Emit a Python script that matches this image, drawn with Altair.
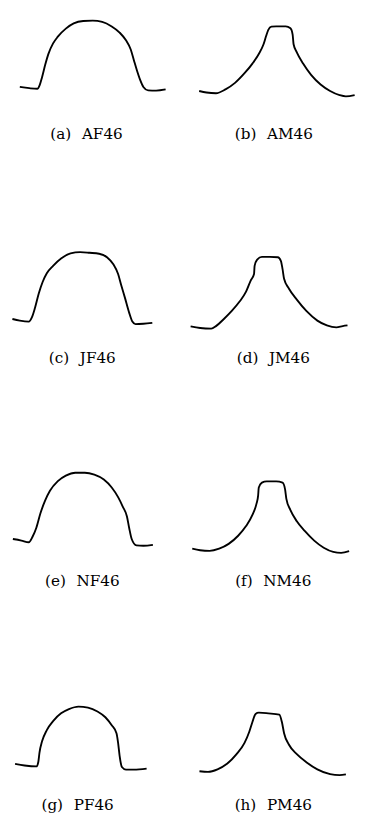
import altair as alt
import pandas as pd

# Panel captions
labels = ["(a)\u2002\u2009AF46", "(b)\u2002\u2009AM46",
          "(c)\u2002\u2009JF46", "(d)\u2002\u2009JM46",
          "(e)\u2002\u2009NF46", "(f)\u2002\u2009NM46",
          "(g)\u2002\u2009PF46", "(h)\u2002\u2009PM46"]

# Profile curves (position across, height)
a_x = [5.3, 15.3, 23.7, 26.3, 28.7, 32, 35.3, 40.3, 45.3, 53.7, 62, 72, 82, 92, 102,
       110.3, 117, 122, 125.3, 128.7, 132, 135.3, 140.3, 148.7, 158.7]
a_y = [60.5, 59.2, 58.6, 62.7, 70.6, 83.4, 94.5, 105.6, 112.6, 120.9, 126.3, 128.8,
       129.2, 127.9, 123.1, 116.8, 108.8, 99.3, 88.2, 77.0, 67.5, 60.5, 57.0, 56.7, 57.9]

b_x = [14, 21.7, 31.7, 41.7, 51.7, 61.7, 70, 76.7, 81.7, 84.3, 86.7, 90, 95, 105, 110,
       112.3, 113.3, 116.7, 123.3, 131.7, 141.7, 151.7, 161.7, 168.3, 177.5]
b_y = [56.3, 54.7, 54.0, 58.0, 64.7, 74.7, 84.7, 94.7, 104.7, 113.0, 119.7, 123.0,
       123.3, 123.3, 121.3, 114.7, 104.7, 96.3, 84.7, 73.0, 63.0, 56.3, 52.0, 50.7, 52.0]

c_x = [-2.5, 5.3, 14.7, 18, 21.3, 25.3, 29.3, 33.7, 40.3, 48.7, 58.7, 68.7, 78.7, 88.7,
       97, 103.7, 108.7, 112, 116, 120.3, 123.7, 127, 135.3, 144.7]
c_y = [51.7, 50.0, 49.0, 53.3, 63.3, 78.3, 90.0, 99.0, 106.7, 114.3, 119.7, 121.0,
       120.3, 119.3, 115.7, 108.3, 98.3, 86.7, 73.3, 58.3, 49.0, 46.3, 46.7, 47.7]

d_x = [5, 15, 26.7, 31.7, 40, 48.3, 56.7, 63.3, 68.3, 71.7, 72.3, 75, 80, 88.3, 96.7,
       100, 101.7, 103.3, 108.3, 116.7, 126.7, 138.3, 148.3, 158.3, 165, 170]
d_y = [44.0, 42.3, 41.7, 44.3, 51.7, 60.0, 70.0, 80.0, 91.7, 98.3, 106.7, 113.3, 116.0,
       116.0, 115.7, 111.7, 103.3, 93.3, 83.3, 71.7, 60.0, 50.0, 45.0, 43.0, 44.3, 45.0]

e_x = [-2, 7, 14.7, 18.7, 22.7, 27, 32, 37, 45.3, 53.7, 63.7, 73.7, 83.7, 93.7, 102,
       108.7, 113.7, 118, 120.3, 123, 128, 135.3, 145.3]
e_y = [55.3, 53.7, 52.0, 57.7, 67.0, 82.0, 95.3, 105.3, 115.3, 121.0, 124.0, 124.0,
       122.0, 117.0, 108.7, 98.7, 88.7, 78.7, 67.0, 55.3, 48.7, 48.3, 49.3]

f_x = [6.7, 15, 25, 35, 45, 55, 63.3, 70, 74.3, 76, 76.7, 80, 85, 95, 101.7, 104.3,
       105.7, 110, 116.7, 125, 135, 145, 155, 163.3, 171.7]
f_y = [45.3, 43.7, 43.0, 45.3, 50.3, 58.7, 68.7, 80.3, 92.0, 100.3, 108.7, 113.7, 115.0,
       115.0, 113.7, 107.0, 97.0, 85.3, 73.7, 63.7, 53.7, 46.3, 42.0, 41.0, 42.7]

g_x = [0.3, 10.3, 22.7, 24.7, 26, 28.7, 33.7, 40.3, 48.7, 57, 67, 77, 87, 95.3, 102,
       107, 108.7, 110.3, 112.7, 117, 125.3, 138.7]
g_y = [54.0, 52.3, 51.3, 55.7, 65.7, 77.3, 89.0, 98.3, 106.3, 110.7, 113.3, 112.3,
       108.3, 102.3, 94.0, 85.7, 75.7, 62.3, 50.7, 48.0, 48.0, 49.0]

h_x = [14.3, 23.3, 33.3, 43.3, 53.3, 61.7, 66.7, 70, 73.3, 76.7, 86.7, 98.3, 101,
       103.3, 108.3, 116.7, 126.7, 138.3, 151.7, 161.7, 168.3]
h_y = [46.3, 45.7, 48.3, 54.0, 64.0, 75.7, 87.3, 97.3, 105.7, 107.0, 106.3, 105.0,
       97.3, 85.7, 74.0, 64.0, 55.7, 48.3, 43.3, 42.3, 43.0]

curves = [(a_x, a_y), (b_x, b_y), (c_x, c_y), (d_x, d_y),
          (e_x, e_y), (f_x, f_y), (g_x, g_y), (h_x, h_y)]

# Layout (pixels)
PW, PH = 175, 128
X_DOMAINS = [[-3.0, 177.5], [-1.45, 179.0]]   # left column, right column
Y_DOMAIN = [3.0, 133.05]
label_cx = [76.1, 91.1, 71.8, 90.6, 71.8, 90.6, 67.0, 90.6]
LABEL_Y = 124.5


def panel(xs, ys, label, cx, col):
    df = pd.DataFrame({"x": xs, "y": ys})
    line = alt.Chart(df).mark_line(
        color="#000000", strokeWidth=1.9, interpolate="monotone", clip=False
    ).encode(
        x=alt.X("x:Q", scale=alt.Scale(domain=X_DOMAINS[col], nice=False, zero=False),
                axis=None),
        y=alt.Y("y:Q", scale=alt.Scale(domain=Y_DOMAIN, nice=False, zero=False),
                axis=None),
    )
    txt = alt.Chart(pd.DataFrame({"label": [label]})).mark_text(
        font="DejaVu Serif", fontSize=15.5, color="#000000",
        align="center", baseline="alphabetic"
    ).encode(
        text="label:N",
        x=alt.value(cx),
        y=alt.value(LABEL_Y),
    )
    return alt.layer(line, txt).properties(width=PW, height=PH)


panels = [panel(curves[i][0], curves[i][1], labels[i], label_cx[i], i % 2)
          for i in range(8)]
rows = [alt.hconcat(panels[2 * r], panels[2 * r + 1], spacing=1)
        for r in range(4)]
chart = alt.vconcat(*rows, spacing=100).properties(
    padding=0
).configure_view(stroke=None)

chart.save("out.html", embed_options={"renderer": "svg", "actions": False})
